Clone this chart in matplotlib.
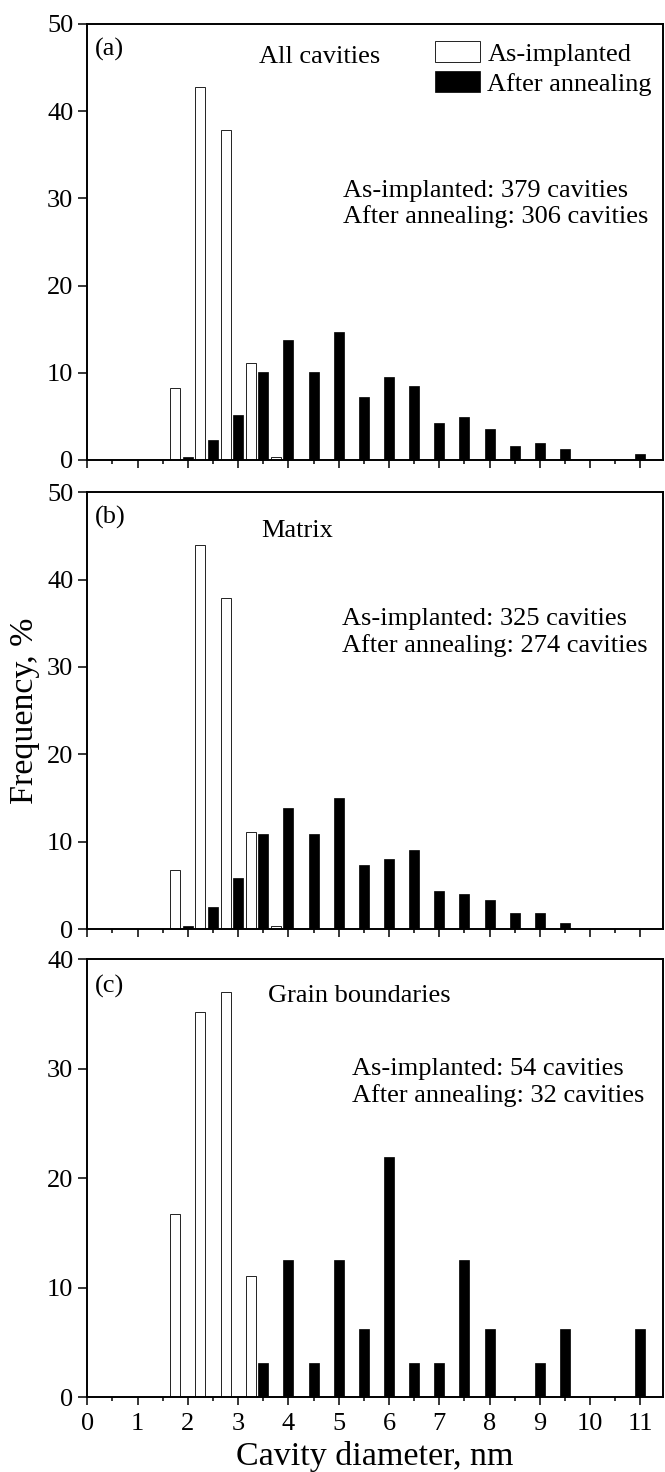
import numpy as np
import matplotlib
matplotlib.use('Agg')
import matplotlib.pyplot as plt
from matplotlib.ticker import MultipleLocator

plt.rcParams['font.family'] = ['Liberation Serif', 'DejaVu Serif']

# bin centres (nm) and frequencies (%)
asimp_x_a = [1.75, 2.25, 2.75, 3.25, 3.75]
asimp_a = [8.2, 42.8, 37.8, 11.1, 0.3]
ann_x_a = [2.0, 2.5, 3.0, 3.5, 4.0, 4.5, 5.0, 5.5, 6.0, 6.5, 7.0, 7.5, 8.0, 8.5, 9.0, 9.5, 11.0]
ann_a = [0.3, 2.3, 5.2, 10.1, 13.8, 10.1, 14.7, 7.2, 9.5, 8.5, 4.3, 4.9, 3.6, 1.6, 1.9, 1.3, 0.65]

asimp_x_b = [1.75, 2.25, 2.75, 3.25, 3.75]
asimp_b = [6.8, 44.0, 37.9, 11.1, 0.3]
ann_x_b = [2.0, 2.5, 3.0, 3.5, 4.0, 4.5, 5.0, 5.5, 6.0, 6.5, 7.0, 7.5, 8.0, 8.5, 9.0, 9.5]
ann_b = [0.35, 2.5, 5.8, 10.9, 13.9, 10.9, 15.0, 7.3, 8.0, 9.1, 4.4, 4.0, 3.3, 1.8, 1.8, 0.7]

asimp_x_c = [1.75, 2.25, 2.75, 3.25]
asimp_c = [16.7, 35.2, 37.0, 11.1]
ann_x_c = [3.5, 4.0, 4.5, 5.0, 5.5, 6.0, 6.5, 7.0, 7.5, 8.0, 9.0, 9.5, 11.0]
ann_c = [3.1, 12.5, 3.1, 12.5, 6.25, 21.9, 3.1, 3.1, 12.5, 6.25, 3.1, 6.25, 6.25]

panel_tags = ['(a)', '(b)', '(c)']
panel_titles = ['All cavities', 'Matrix', 'Grain boundaries']
counts_asimp = [379, 325, 54]
counts_ann = [306, 274, 32]
ymax = [50, 50, 40]

W, H = 665, 1472
fig = plt.figure(figsize=(W / 100, H / 100), dpi=100)

left_px, right_px = 87.3, 663.0
# (top, bottom) of each panel in pixels
rows_px = [(24.0, 460.0), (492.3, 929.0), (959.3, 1397.3)]

# text placement: (x px, baseline px below axes top)
tag_pos = [(95, 31.2), (95, 31.7), (95, 33.0)]
title_pos = [(259.3, 39.3), (261.7, 45.0), (268.3, 42.4)]
stats_pos = [(342.7, 172.7, 199.3), (341.7, 132.7, 159.4), (352.3, 115.7, 142.4)]

FS = 19
bw = 0.2
data = [(asimp_x_a, asimp_a, ann_x_a, ann_a),
        (asimp_x_b, asimp_b, ann_x_b, ann_b),
        (asimp_x_c, asimp_c, ann_x_c, ann_c)]

axes = []
for i, (top, bot) in enumerate(rows_px):
    ax = fig.add_axes([left_px / W, 1 - bot / H, (right_px - left_px) / W, (bot - top) / H])
    axes.append(ax)
    wx, wy, bx, by = data[i]
    b1 = ax.bar(wx, wy, width=bw, color='white', edgecolor='#222222', linewidth=0.7,
                label='As-implanted')
    b2 = ax.bar(bx, by, width=bw, color='black', edgecolor='black', linewidth=0.5,
                label='After annealing')
    ax.set_xlim(0, 11.45)
    ax.set_ylim(0, ymax[i])
    ax.xaxis.set_major_locator(MultipleLocator(1))
    ax.xaxis.set_minor_locator(MultipleLocator(0.5))
    ax.yaxis.set_major_locator(MultipleLocator(10))
    ax.tick_params(axis='both', which='both', direction='out', top=False, right=False,
                   labelsize=FS, width=1.1)
    ax.tick_params(axis='x', which='major', length=6, pad=5.5)
    ax.tick_params(axis='x', which='minor', length=3)
    ax.tick_params(axis='y', which='major', length=6.5, pad=3.5)
    for s in ax.spines.values():
        s.set_linewidth(1.4)
    if i < 2:
        ax.tick_params(axis='x', labelbottom=False)

    hpx = bot - top
    wpx = right_px - left_px
    tx, ty = tag_pos[i]
    ax.text((tx - left_px) / wpx, 1 - ty / hpx, panel_tags[i], transform=ax.transAxes,
            fontsize=FS, va='baseline', ha='left')
    tx, ty = title_pos[i]
    ax.text((tx - left_px) / wpx, 1 - ty / hpx, panel_titles[i], transform=ax.transAxes,
            fontsize=FS, va='baseline', ha='left')
    sx, s1, s2 = stats_pos[i]
    ax.text((sx - left_px) / wpx, 1 - s1 / hpx, 'As-implanted: %d cavities' % counts_asimp[i],
            transform=ax.transAxes, fontsize=FS, va='baseline', ha='left')
    ax.text((sx - left_px) / wpx, 1 - s2 / hpx, 'After annealing: %d cavities' % counts_ann[i],
            transform=ax.transAxes, fontsize=FS, va='baseline', ha='left')

    if i == 0:
        ax.legend(handles=[b1, b2], loc='upper left',
                  bbox_to_anchor=((435 - left_px) / wpx, 1 - 17 / hpx),
                  frameon=False, fontsize=FS, handlelength=1.7, handleheight=0.85,
                  handletextpad=0.28, labelspacing=0.2, borderpad=0, borderaxespad=0)

axes[2].set_xlabel('Cavity diameter, nm', fontsize=24.5, labelpad=4)
axes[1].set_ylabel('Frequency, %', fontsize=24.5, labelpad=5)

fig.savefig('out.png', dpi=100)
